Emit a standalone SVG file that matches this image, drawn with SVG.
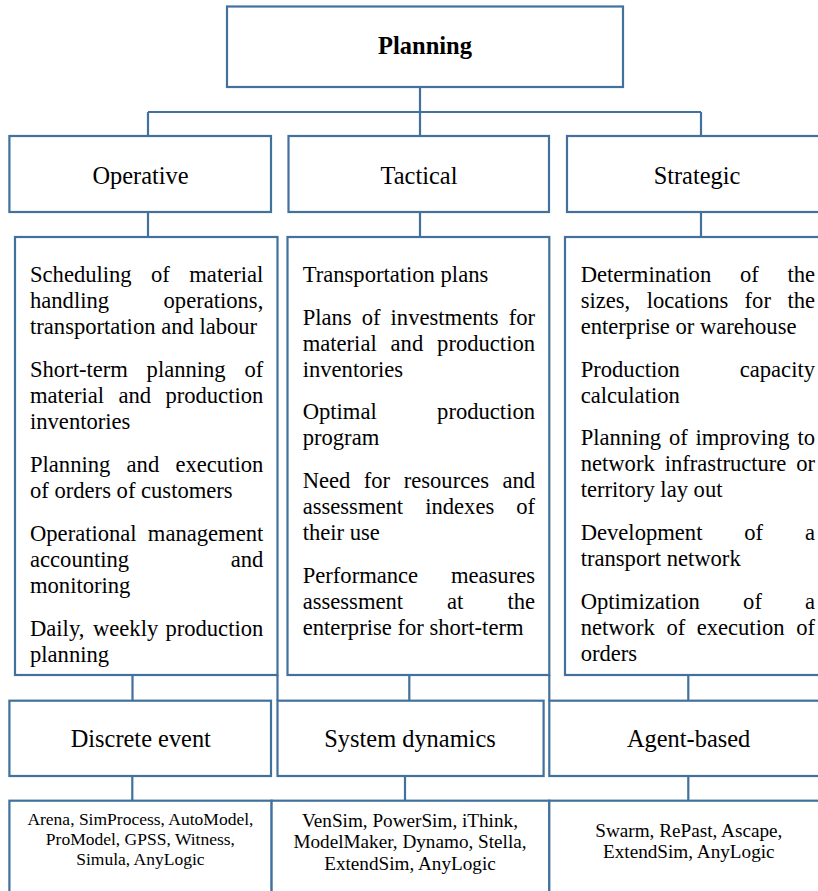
<svg xmlns="http://www.w3.org/2000/svg" width="818" height="891" viewBox="0 0 818 891">
<style>
.box{fill:#fff;stroke:#41719C;stroke-width:2.2}
.conn{stroke:#41719C;stroke-width:2.2;fill:none}
text{font-family:"Liberation Serif","Times New Roman",serif;fill:#000}
.t{font-size:22.6px}
.h{font-size:24.4px;text-anchor:middle}
.b{font-size:24.5px;font-weight:bold;text-anchor:middle}
.e{text-anchor:end}
.s1{font-size:17.5px;text-anchor:middle}
.s2{font-size:19.2px;text-anchor:middle}
</style>
<rect x="0" y="0" width="818" height="891" fill="#fff"/>
<g id="connectors">
<path class="conn" d="M420,87V112M148,112H701M148,112V136M420,112V136M701,112V136"/>
<path class="conn" d="M148,212V237M420,212V237M701,212V237"/>
<path class="conn" d="M132.5,675V700.7M409.3,675V700.7M688.3,675V700.7M277.5,675V700.7M549.3,675V700.7"/>
<path class="conn" d="M132.3,776V800.7M405,776V800.7M688.3,776V800.7"/>
</g>
<g id="planning">
<rect class="box" x="227" y="6.5" width="396" height="80.5"/>
<text class="b" x="425" y="54">Planning</text>
</g>
<g id="operative">
<rect class="box" x="9.4" y="136" width="261.6" height="76"/>
<text class="h" x="140.5" y="184">Operative</text>
</g>
<g id="tactical">
<rect class="box" x="288.5" y="136" width="260.5" height="76"/>
<text class="h" x="419" y="184">Tactical</text>
</g>
<g id="strategic">
<rect class="box" x="567" y="136" width="262" height="76"/>
<text class="h" x="697" y="184">Strategic</text>
</g>
<g id="operative-tasks">
<rect class="box" x="15" y="237" width="262.5" height="438"/>
<g class="t">
<text x="30" y="282">Scheduling</text><text x="151" y="282">of</text><text class="e" x="263.3" y="282">material</text>
<text x="30" y="308">handling</text><text class="e" x="263.3" y="308">operations,</text>
<text x="30" y="334">transportation and labour</text>
<text x="30" y="377">Short-term</text><text x="146.6" y="377">planning</text><text class="e" x="263.3" y="377">of</text>
<text x="30" y="403">material</text><text x="118.4" y="403">and</text><text class="e" x="263.3" y="403">production</text>
<text x="30" y="429">inventories</text>
<text x="30" y="472">Planning</text><text x="126.6" y="472">and</text><text class="e" x="263.3" y="472">execution</text>
<text x="30" y="498">of orders of customers</text>
<text x="30" y="540.5">Operational</text><text class="e" x="263.3" y="540.5">management</text>
<text x="30" y="566.5">accounting</text><text class="e" x="263.3" y="566.5">and</text>
<text x="30" y="592.5">monitoring</text>
<text x="30" y="635.5">Daily,</text><text x="93" y="635.5">weekly</text><text class="e" x="263.3" y="635.5">production</text>
<text x="30" y="662">planning</text>
</g>
</g>
<g id="tactical-tasks">
<rect class="box" x="287.5" y="237" width="261.8" height="438"/>
<g class="t">
<text x="302.7" y="282">Transportation plans</text>
<text x="302.7" y="325">Plans</text><text x="361.7" y="325">of</text><text x="390.6" y="325">investments</text><text class="e" x="535" y="325">for</text>
<text x="302.7" y="351">material</text><text x="390.6" y="351">and</text><text class="e" x="535" y="351">production</text>
<text x="302.7" y="377">inventories</text>
<text x="302.7" y="419">Optimal</text><text class="e" x="535" y="419">production</text>
<text x="302.7" y="445">program</text>
<text x="302.7" y="488">Need</text><text x="363.8" y="488">for</text><text x="403.7" y="488">resources</text><text class="e" x="535" y="488">and</text>
<text x="302.7" y="514">assessment</text><text x="425.2" y="514">indexes</text><text class="e" x="535" y="514">of</text>
<text x="302.7" y="540">their use</text>
<text x="302.7" y="583">Performance</text><text class="e" x="535" y="583">measures</text>
<text x="302.7" y="609">assessment</text><text x="447.1" y="609">at</text><text class="e" x="535" y="609">the</text>
<text x="302.7" y="635">enterprise for short-term</text>
</g>
</g>
<g id="strategic-tasks">
<rect class="box" x="565" y="237" width="265" height="438"/>
<g class="t">
<text x="580.7" y="282">Determination</text><text x="740" y="282">of</text><text class="e" x="815" y="282">the</text>
<text x="580.7" y="308">sizes,</text><text x="646.7" y="308">locations</text><text x="744.6" y="308">for</text><text class="e" x="815" y="308">the</text>
<text x="580.7" y="334">enterprise or warehouse</text>
<text x="580.7" y="377">Production</text><text class="e" x="815" y="377">capacity</text>
<text x="580.7" y="403">calculation</text>
<text x="580.7" y="445">Planning</text><text x="668.9" y="445">of</text><text x="695.4" y="445">improving</text><text class="e" x="815" y="445">to</text>
<text x="580.7" y="471">network</text><text x="664.7" y="471">infrastructure</text><text class="e" x="815" y="471">or</text>
<text x="580.7" y="497">territory lay out</text>
<text x="580.7" y="540">Development</text><text x="744.3" y="540">of</text><text class="e" x="815" y="540">a</text>
<text x="580.7" y="566">transport network</text>
<text x="580.7" y="609">Optimization</text><text x="743.1" y="609">of</text><text class="e" x="815" y="609">a</text>
<text x="580.7" y="635">network</text><text x="666.4" y="635">of</text><text x="696.7" y="635">execution</text><text class="e" x="815" y="635">of</text>
<text x="580.7" y="661">orders</text>
</g>
</g>
<g id="discrete-event">
<rect class="box" x="9.4" y="700.7" width="261.6" height="75.3"/>
<text class="h" x="140.8" y="747">Discrete event</text>
</g>
<g id="system-dynamics">
<rect class="box" x="277.5" y="700.7" width="266.1" height="75.3"/>
<text class="h" x="410" y="747">System dynamics</text>
</g>
<g id="agent-based">
<rect class="box" x="549.3" y="700.7" width="280" height="75.3"/>
<text class="h" x="688.6" y="747">Agent-based</text>
</g>
<g id="discrete-tools">
<rect class="box" x="9.4" y="800.7" width="262.2" height="100"/>
<text class="s1" x="140.4" y="825">Arena, SimProcess, AutoModel,</text>
<text class="s1" x="140.4" y="845">ProModel, GPSS, Witness,</text>
<text class="s1" x="140.4" y="864.5">Simula, AnyLogic</text>
</g>
<g id="sd-tools">
<rect class="box" x="271.6" y="800.7" width="277.7" height="100"/>
<text class="s2" x="410" y="826.7">VenSim, PowerSim, iThink,</text>
<text class="s2" x="410" y="848.3">ModelMaker, Dynamo, Stella,</text>
<text class="s2" x="410" y="870">ExtendSim, AnyLogic</text>
</g>
<g id="ab-tools">
<rect class="box" x="549.3" y="800.7" width="282" height="100"/>
<text class="s2" x="688.8" y="836.7">Swarm, RePast, Ascape,</text>
<text class="s2" x="688.8" y="858.3">ExtendSim, AnyLogic</text>
</g>
</svg>
